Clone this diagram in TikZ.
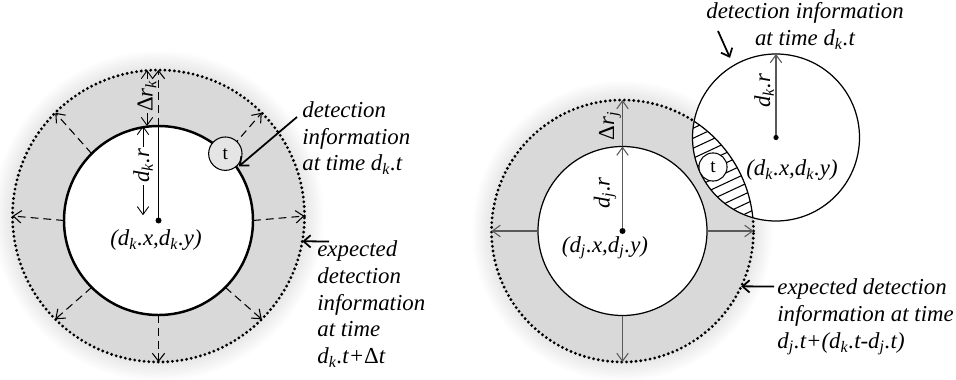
\documentclass[tikz,border=0pt]{standalone}
\usepackage{fontspec}
\setmainfont{Liberation Serif}
\usepackage{tikz}
\usetikzlibrary{arrows.meta, calc}

\begin{document}
\begin{tikzpicture}[x=0.02cm, y=0.02cm,
  lbl/.style={font=\itshape\fontsize{13}{15.2}\selectfont, inner sep=1pt},
  note/.style={font=\itshape\fontsize{13}{15.2}\selectfont,
               align=left, inner sep=0pt},
  tnode/.style={circle, draw, line width=0.6pt, inner sep=0pt,
                minimum size=#1, font=\fontsize{11}{11}\selectfont},
  ring/.style={fill=gray!30},
  rim/.style={line width=1.8pt, dash pattern=on 0pt off 2.7pt, line cap=round},
  growarrow/.style={line width=0.6pt, dash pattern=on 4.5pt off 2.8pt,
               -{Straight Barb[length=4.5pt,width=7pt]}},
  dim/.style={line width=0.5pt, -{Straight Barb[length=4.5pt,width=6.5pt]}},
  gdim/.style={line width=0.6pt, black!65,
               -{Straight Barb[length=4.5pt,width=6.5pt]}},
  callout/.style={line width=1pt, -{Straight Barb[length=4pt,width=7pt]}},
  hatch/.style={line width=0.6pt}
]
  \useasboundingbox (0,0) rectangle (956,379);

  %% Left: one detection, expected growth
  \coordinate (kc) at (158.5,158.5);
  \coordinate (ko) at (158.5,163);
  \coordinate (ktop) at ($(kc)+(90:94.5)$);
  \coordinate (kotop) at ($(ko)+(90:146)$);

  \foreach \g in {1,...,12}
    \fill[black, opacity=0.007] (ko) circle (146+1.6*\g);
  \fill[ring] (ko) circle (146);
  \draw[rim] (ko) circle (146);
  \fill[white] (kc) circle (94.5);
  \draw[line width=1.4pt] (kc) circle (94.5);

  %% growth arrows
  \foreach \a in {0,90,135,180,225,270,315}
    \draw[growarrow] ($(kc)+(\a:94.5)$) -- ($(ko)+(\a:146)$);
  \draw[growarrow] ($(kc)+(45:105)$) -- ($(ko)+(45:146)$);

  \draw[line width=0.8pt] (kc) -- (ktop);
  \fill (kc) circle (3);
  \node[tnode=19] (tk) at ($(kc)+(45:94.5)$) [fill=gray!20] {t};

  \node[lbl, rotate=90] (dkr) at (143,213) {d\textsubscript{k}.r};
  \draw[dim] (dkr.east) -- (dkr.east |- ktop);
  \draw[dim, shorten >=3pt] (dkr.west) -- (dkr.west |- kc);
  \node[lbl, rotate=90, inner sep=0.5pt] (drk) at (147,283) {{\upshape Δ}r\textsubscript{k}};
  \draw[dim] (drk.east) -- (drk.east |- kotop);
  \draw[dim] (drk.west) -- (drk.west |- ktop);

  \node[lbl] (kpos) at (156,139) {(d\textsubscript{k}.x,d\textsubscript{k}.y)};

  %% Left notes
  \node[note, anchor=west] (n1) at (302,241)
    {detection\\information\\at time d\textsubscript{k}.t};
  \coordinate (n1tail) at (297,262);
  \coordinate (n1tip) at ($(kc)+(34:97)$);
  \draw[callout] (n1tail) -- (n1tip);

  \node[note, anchor=west] (n2) at (317,75)
    {expected\\detection\\information\\at time\\d\textsubscript{k}.t+{\upshape Δ}t};
  \coordinate (n2tail) at (329,137.6);
  \coordinate (n2tip) at ($(ko)+(-10:146)$);
  \draw[callout] (n2tail) -- (n2tip);

  %% Right: detection j grown, detection k
  \coordinate (jc) at (622.5,148);
  \coordinate (kc2) at (776,241.5);
  \coordinate (jtop) at ($(jc)+(90:84.5)$);
  \coordinate (jotop) at ($(jc)+(90:131)$);

  \foreach \g in {1,...,12}
    \fill[black, opacity=0.007] (jc) circle (131+1.6*\g);
  \fill[ring] (jc) circle (131);
  \draw[rim] (jc) circle (131);
  \fill[white] (jc) circle (84.5);
  \draw[line width=0.7pt] (jc) circle (84.5);
  \fill[white] (kc2) circle (83.5);

  %% overlap
  \begin{scope}
    \clip (kc2) circle (83.5);
    \clip (jc) circle (131);
    \foreach \y in {100,110,...,270}
      \draw[hatch] (670,\y) -- (790,\y+56);
  \end{scope}
  \begin{scope}
    \clip (kc2) circle (83.5);
    \draw[line width=0.7pt] (jc) circle (131);
  \end{scope}
  \draw[line width=0.7pt] (kc2) circle (83.5);

  \foreach \a in {0,180,270}
    \draw[gdim] ($(jc)+(\a:84.5)$) -- ($(jc)+(\a:131)$);
  \draw[gdim] (jc) -- (jtop);
  \draw[gdim] (jtop) -- (jotop);
  \draw[gdim] (kc2) -- ($(kc2)+(90:83.5)$);
  \fill (jc) circle (3);
  \fill (kc2) circle (2.6);
  \node[tnode=16, fill=white] (tj) at (713,212) {t};

  \node[lbl, rotate=90] (djr) at (605,186) {d\textsubscript{j}.r};
  \node[lbl, rotate=90] (drj) at (610,253) {{\upshape Δ}r\textsubscript{j}};
  \node[lbl, rotate=90] (dkr2) at (764,288) {d\textsubscript{k}.r};
  \node[lbl] (jpos) at (605,131) {(d\textsubscript{j}.x,d\textsubscript{j}.y)};
  \node[lbl] (kpos2) at (792,209) {(d\textsubscript{k}.x,d\textsubscript{k}.y)};

  %% Right notes
  \node[note, align=center] (n3) at (805,353)
    {detection information\\at time d\textsubscript{k}.t};
  \coordinate (n3tail) at (718,348);
  \coordinate (n3tip) at ($(kc2)+(120:92)$);
  \draw[callout] (n3tail) -- (n3tip);

  \node[note, anchor=west] (n4) at (777,62)
    {expected detection\\information at time\\d\textsubscript{j}.t+(d\textsubscript{k}.t-d\textsubscript{j}.t)};
  \coordinate (n4tail) at (774,92.6);
  \coordinate (n4tip) at ($(jc)+(-25:131)$);
  \draw[callout] (n4tail) -- (n4tip);
\end{tikzpicture}
\end{document}
